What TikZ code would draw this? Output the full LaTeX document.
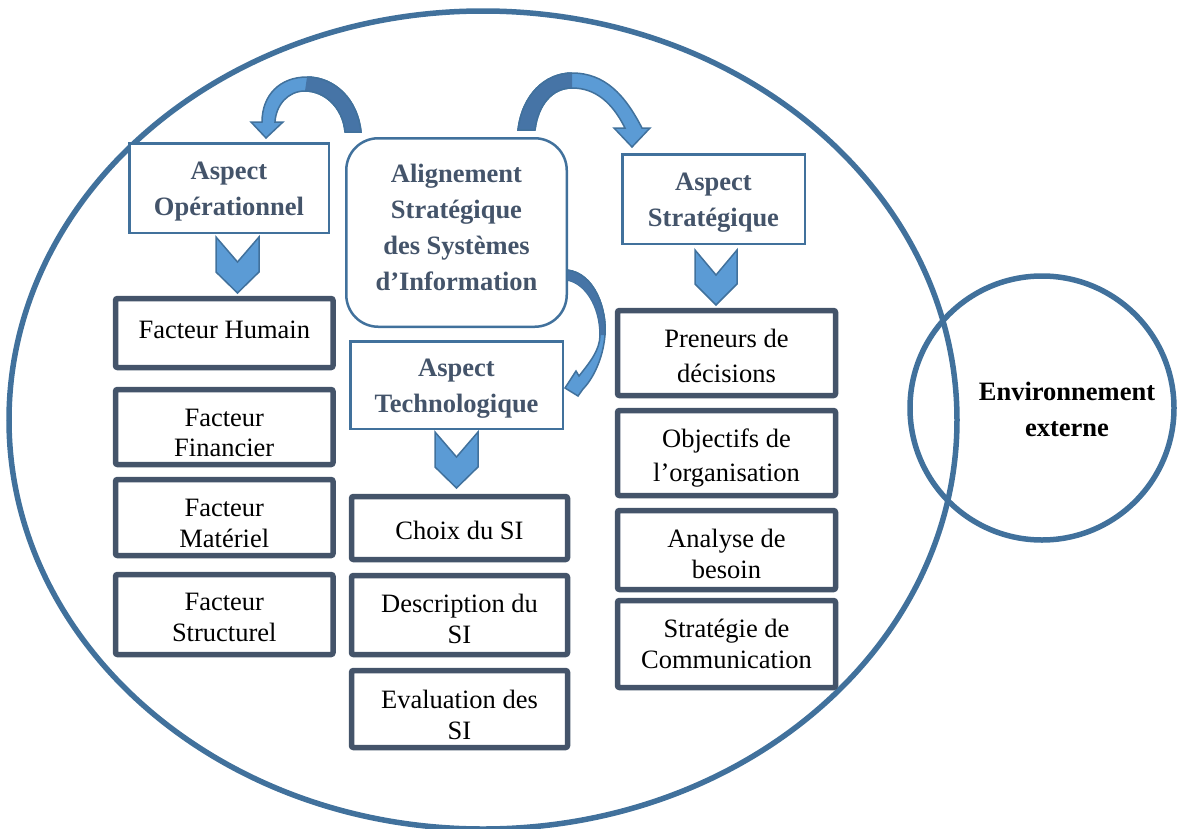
\documentclass[tikz,border=0pt]{standalone}
\usepackage{fontspec}
\setmainfont{Liberation Serif}
\definecolor{lineblue}{HTML}{41719C}
\definecolor{fillblue}{HTML}{5B9BD5}
\definecolor{darkblue}{HTML}{4674A6}
\definecolor{slate}{HTML}{44546A}
\newcommand{\boxfont}{\fontsize{26.5}{30.5}\selectfont}
\newcommand{\boxfontwide}{\fontsize{26.5}{34.5}\selectfont}
\newcommand{\hdfont}{\fontsize{26.5}{36}\selectfont\bfseries}
\tikzset{
  headbox/.style={draw=lineblue, line width=2.5pt, fill=white, inner sep=0pt},
  headtext/.style={align=center, font=\hdfont, text=slate, inner sep=0pt},
  factbox/.style={draw=slate, line width=5.5pt, rounded corners=2pt, fill=white, inner sep=0pt},
  facttext/.style={align=center, font=\boxfont, inner sep=0pt},
  chevron/.style={fill=fillblue, draw=lineblue, line width=1.5pt, line join=miter},
  bendarrow/.style={fill=fillblue, draw=lineblue, line width=1.5pt, line join=miter},
  bendshade/.style={fill=darkblue},
  ring/.style={draw=lineblue, line width=5.5pt}
}
\begin{document}
\begin{tikzpicture}[x=1pt,y=-1pt]
\useasboundingbox (0,0) rectangle (1179,828);

% the organisation and its external environment
\draw[ring] (483,420) ellipse [x radius=474pt, y radius=409pt];
\draw[ring] (1042,408) circle [radius=132pt];
\node[font=\hdfont, align=center, inner sep=0pt] (env) at (1067,409)
  {Environnement\\externe};

% central box
\node[headbox, rounded corners=32pt, minimum width=220.5pt, minimum height=188.5pt]
  (asi) at (456.5,232.5) {};
\node[headtext] (asitxt) at (456.5,227)
  {Alignement\\Stratégique\\des Systèmes\\d’Information};

% the three aspects
\node[headbox, minimum width=199.5pt, minimum height=89.5pt] (op) at (229,188) {};
\node[headtext, yshift=-4pt] at (op) {Aspect\\Opérationnel};
\node[headbox, minimum width=182.5pt, minimum height=89.5pt] (st) at (713.5,199) {};
\node[headtext, yshift=-4pt] at (st) {Aspect\\Stratégique};
\node[headbox, minimum width=212.5pt, minimum height=87.5pt] (te) at (456.5,385) {};
\node[headtext, yshift=-3.5pt] at (te) {Aspect\\Technologique};

% operational factors
\node[factbox, minimum width=217.5pt, minimum height=69pt] (f1) at (224.25,333) {};
\node[facttext, yshift=3pt] at (f1) {Facteur Humain};
\node[factbox, minimum width=217.5pt, minimum height=75pt] (f2) at (224.25,427) {};
\node[facttext, yshift=-6pt] at (f2) {Facteur\\Financier};
\node[factbox, minimum width=217.5pt, minimum height=76pt] (f3) at (224.25,517.5) {};
\node[facttext, yshift=-6pt] at (f3) {Facteur\\Matériel};
\node[factbox, minimum width=217.5pt, minimum height=80pt] (f4) at (224.25,614.5) {};
\node[facttext, yshift=-3pt] at (f4) {Facteur\\Structurel};

% technological items
\node[factbox, minimum width=216pt, minimum height=63pt] (t1) at (459.5,528) {};
\node[facttext, yshift=-2pt] at (t1) {Choix du SI};
\node[factbox, minimum width=216pt, minimum height=79pt] (t2) at (459.5,615) {};
\node[facttext, yshift=-4pt] at (t2) {Description du\\SI};
\node[factbox, minimum width=216pt, minimum height=77pt] (t3) at (459.5,709) {};
\node[facttext, yshift=-6pt] at (t3) {Evaluation des\\SI};

% strategic items
\node[factbox, minimum width=218pt, minimum height=85pt] (s1) at (726.5,353) {};
\node[facttext, font=\boxfontwide, yshift=-3pt] at (s1) {Preneurs de\\décisions};
\node[factbox, minimum width=218pt, minimum height=85pt] (s2) at (726.5,453) {};
\node[facttext, font=\boxfontwide, yshift=-5pt] at (s2) {Objectifs de\\l’organisation};
\node[factbox, minimum width=218pt, minimum height=79pt] (s3) at (726.5,550) {};
\node[facttext, yshift=-4pt] at (s3) {Analyse de\\besoin};
\node[factbox, minimum width=218pt, minimum height=87pt] (s4) at (726.5,644) {};
\node[facttext] at (s4) {Stratégie de\\Communication};

% chevrons under each aspect
\draw[chevron] (216,237) -- (237.5,262) -- (259,237) -- (259,272) -- (237.5,293) -- (216,272) -- cycle;
\draw[chevron] (695,250) -- (716,275) -- (737,250) -- (737,284) -- (716,305) -- (695,284) -- cycle;
\draw[chevron] (435,432) -- (456.5,457) -- (478,432) -- (478,467) -- (456.5,488) -- (435,467) -- cycle;

% curved arrow towards the operational aspect
\draw[bendarrow] (345,132) .. controls (343,108) and (325,91) .. (305,91)
  .. controls (288,91) and (276,105) .. (275,122) -- (283,122) -- (266,138) -- (251,122) -- (262,122)
  .. controls (262,95) and (280,77) .. (307,77)
  .. controls (335,77) and (358,100) .. (361,132) -- cycle;
\fill[bendshade] (345,132) .. controls (343,108) and (325,91) .. (305,91) -- (307,77)
  .. controls (335,77) and (358,100) .. (361,132) -- cycle;
\draw[lineblue, line width=1.5pt] (345,132) .. controls (343,108) and (325,91) .. (305,91);
\draw[lineblue, line width=1.5pt] (307,77) .. controls (335,77) and (358,100) .. (361,132) -- (345,132);

% curved arrow towards the strategic aspect
\draw[bendarrow] (518,130) .. controls (522,95) and (545,73) .. (572,73)
  .. controls (605,73) and (625,95) .. (642,128) -- (650,128) -- (632,147) -- (614,128) -- (625,128)
  .. controls (612,102) and (595,88) .. (572,88)
  .. controls (552,88) and (538,105) .. (535,130) -- cycle;
\fill[bendshade] (518,130) .. controls (522,95) and (545,73) .. (572,73) -- (572,88)
  .. controls (552,88) and (538,105) .. (535,130) -- cycle;
\draw[lineblue, line width=1.5pt] (535,130) -- (518,130) .. controls (522,95) and (545,73) .. (572,73);
\draw[lineblue, line width=1.5pt] (572,88) .. controls (552,88) and (538,105) .. (535,130);

% curved arrow towards the technological aspect
\draw[bendarrow] (567,270) .. controls (595,273) and (607,310) .. (605,335)
  .. controls (603,360) and (592,380) .. (583,389) -- (578,396) -- (565,388) -- (576,371) -- (579,376)
  .. controls (590,362) and (600,350) .. (600,335)
  .. controls (600,306) and (585,283) .. (567,280) -- cycle;
\fill[bendshade] (567,270) .. controls (595,273) and (607,310) .. (605,335) -- (600,335)
  .. controls (600,306) and (585,283) .. (567,280) -- cycle;
\draw[lineblue, line width=1.5pt] (567,280) -- (567,270) .. controls (595,273) and (607,310) .. (605,335);
\end{tikzpicture}
\end{document}
